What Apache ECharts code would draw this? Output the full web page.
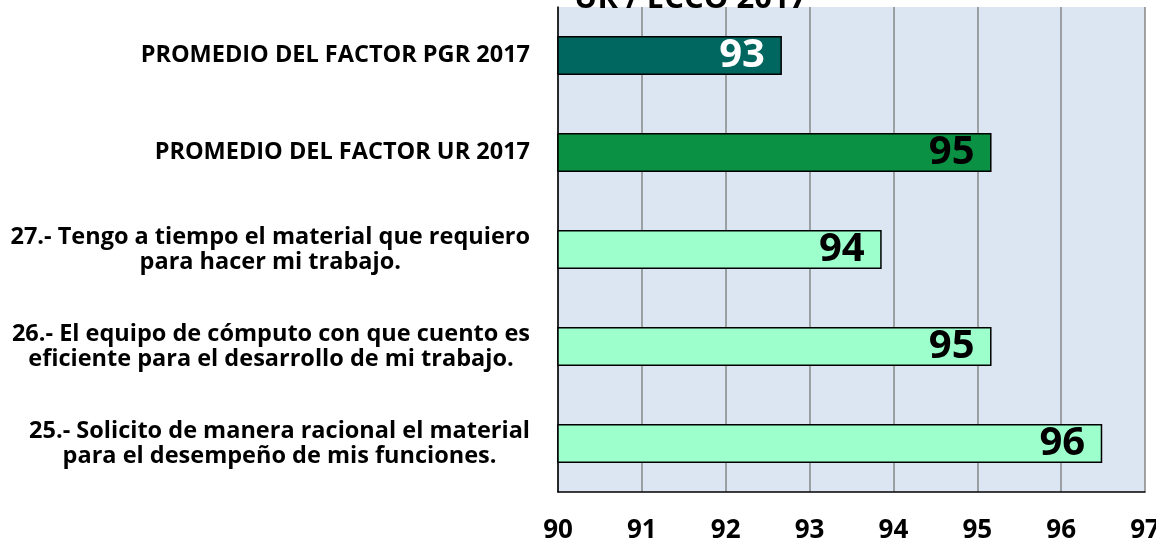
<!DOCTYPE html>
<html>
<head>
<meta charset="utf-8">
<script src="https://cdn.jsdelivr.net/npm/echarts@6/dist/echarts.min.js"></script>
<style>
  html, body { margin: 0; padding: 0; background: #fff; }
  #chart { width: 1156px; height: 540px; }
</style>
</head>
<body>
<div id="chart"></div>
<script>
// categorias (de arriba hacia abajo)
var categories = [
  'PROMEDIO DEL FACTOR PGR 2017',
  'PROMEDIO DEL FACTOR UR 2017',
  '27.- Tengo a tiempo el material que requiero\npara hacer mi trabajo.',
  '26.- El equipo de cómputo con que cuento es\neficiente para el desarrollo de mi trabajo.',
  '25.- Solicito de manera racional el material\npara el desempeño de mis funciones.'
]
var values = [92.67, 95.17, 93.86, 95.17, 96.49]
var barColors = ['#006660', '#0B9143', '#9CFFCC', '#9CFFCC', '#9CFFCC']
var labelColors = ['#ffffff', '#000000', '#000000', '#000000', '#000000']
var xTicks = [90, 91, 92, 93, 94, 95, 96, 97]

var FONT = 'Open Sans'

var chart = echarts.init(document.getElementById('chart'))

var seriesData = values.map(function (v, i) {
  return {
    value: v,
    itemStyle: { color: barColors[i] },
    label: { color: labelColors[i] }
  }
})

var opt = {
  backgroundColor: '#ffffff',
  animation: false,
  title: {
    text: 'UR / ECCO 2017',
    left: 569,
    top: -21,
    textStyle: { fontFamily: FONT, fontWeight: 'bold', fontSize: 31, color: '#000' }
  },
  grid: {
    left: 558,
    right: 11,
    top: 7,
    bottom: 48,
    outerBoundsMode: 'none',
    containLabel: false,
    show: true,
    backgroundColor: '#DCE6F2',
    borderWidth: 0
  },
  xAxis: {
    type: 'value',
    min: xTicks[0],
    max: xTicks[xTicks.length - 1],
    interval: 1,
    axisLine: { show: true, lineStyle: { color: '#000', width: 1.5 } },
    axisTick: { show: false },
    splitLine: { show: true, lineStyle: { color: '#878787', width: 1.5 } },
    axisLabel: {
      margin: 26,
      hideOverlap: false,
      fontFamily: FONT,
      fontWeight: 'bold',
      fontSize: 26,
      color: '#000'
    }
  },
  yAxis: {
    type: 'category',
    inverse: true,
    data: categories,
    axisLine: { show: true, lineStyle: { color: '#000', width: 1.5 } },
    axisTick: { show: false },
    axisLabel: {
      margin: 28,
      lineHeight: 25,
      formatter: function (s) {
        return s.split('\n').map(function (l) { return '{c|' + l + '}' }).join('\n')
      },
      rich: {
        c: {
          align: 'center',
          fontFamily: FONT,
          fontWeight: 'bold',
          fontSize: 23.5,
          lineHeight: 25,
          color: '#000'
        }
      }
    }
  },
  series: [{
    type: 'bar',
    data: seriesData,
    barWidth: 39,
    itemStyle: { borderColor: '#000', borderWidth: 1.5 },
    label: {
      show: true,
      position: 'insideRight',
      distance: 17,
      fontFamily: FONT,
      fontWeight: 'bold',
      fontSize: 40,
      formatter: function (p) { return Math.round(p.value) }
    }
  }]
}

chart.setOption(opt)
</script>
</body>
</html>
